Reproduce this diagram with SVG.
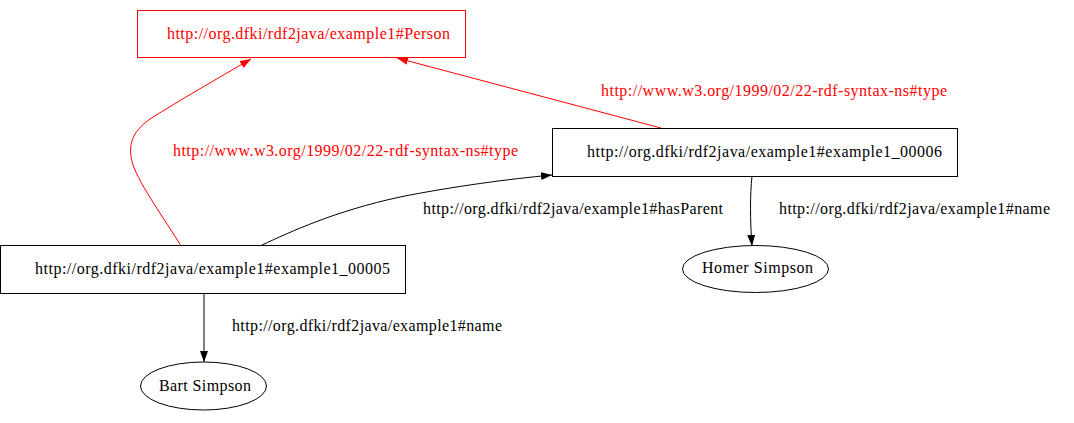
<svg xmlns="http://www.w3.org/2000/svg" width="1074" height="423" viewBox="0 0 1074 423">
<style>
.box{fill:#fff;stroke:#000;stroke-width:1}
.rbox{fill:#fff;stroke:#f00;stroke-width:1}
.ell{fill:#fff;stroke:#000;stroke-width:1}
text{font-family:"Liberation Serif","Times New Roman",serif;font-size:16px;fill:#000}
.red{fill:#f00}
.e{fill:none;stroke:#000;stroke-width:1}
.re{fill:none;stroke:#f00;stroke-width:1}
</style>
<defs>
<marker id="ab" markerUnits="userSpaceOnUse" markerWidth="12" markerHeight="9" refX="11" refY="4" orient="auto"><path d="M0,0 L11,4 L0,8 z" fill="#000"/></marker>
<marker id="ar" markerUnits="userSpaceOnUse" markerWidth="12" markerHeight="9" refX="11" refY="4" orient="auto"><path d="M0,0 L11,4 L0,8 z" fill="#f00"/></marker>
</defs>
<rect width="1074" height="423" fill="#fff"/>
<g id="connectors">
<path class="re" d="M180.5,245 C165,220 140,185 133,165 C127,145 132,132 150,119 C180,100 215,80 251,59" marker-end="url(#ar)"/>
<path class="re" d="M661,128 L397,58" marker-end="url(#ar)"/>
<path class="e" d="M262,245 C290,232 335,211 400,197 C455,186 510,179 552,175" marker-end="url(#ab)"/>
<path class="e" d="M752,176 C750,195 750,220 752,246" marker-end="url(#ab)"/>
<path class="e" d="M204,293 L204,362" marker-end="url(#ab)"/>
<text class="red" x="601" y="96" textLength="346">http://www.w3.org/1999/02/22-rdf-syntax-ns#type</text>
<text class="red" x="173" y="156" textLength="345">http://www.w3.org/1999/02/22-rdf-syntax-ns#type</text>
<text x="423" y="214" textLength="300">http://org.dfki/rdf2java/example1#hasParent</text>
<text x="779" y="214" textLength="271">http://org.dfki/rdf2java/example1#name</text>
<text x="232" y="331" textLength="270">http://org.dfki/rdf2java/example1#name</text>
</g>
<g id="person">
<rect class="rbox" x="137.5" y="10.5" width="328" height="47"/>
<text class="red" x="167" y="39" textLength="283">http://org.dfki/rdf2java/example1#Person</text>
</g>
<g id="example1_00006">
<rect class="box" x="552.5" y="128.5" width="405" height="48"/>
<text x="587" y="157" textLength="355">http://org.dfki/rdf2java/example1#example1_00006</text>
</g>
<g id="example1_00005">
<rect class="box" x="0.5" y="245.5" width="405" height="48"/>
<text x="35" y="274" textLength="355">http://org.dfki/rdf2java/example1#example1_00005</text>
</g>
<g id="homer">
<ellipse class="ell" cx="755.5" cy="269" rx="73" ry="23.5"/>
<text x="702" y="273" textLength="111">Homer Simpson</text>
</g>
<g id="bart">
<ellipse class="ell" cx="203.5" cy="386" rx="63" ry="24"/>
<text x="159" y="391" textLength="92">Bart Simpson</text>
</g>
</svg>
